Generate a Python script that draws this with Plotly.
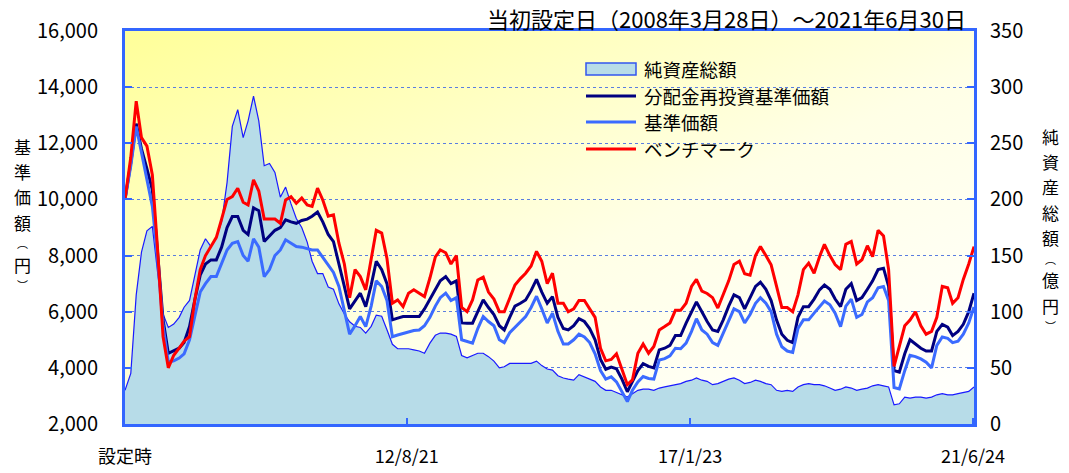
import pandas as pd
import plotly.graph_objects as go

dates = [pd.Timestamp("2008-03-28")] + list(pd.date_range("2008-04-30", "2021-06-30", freq="ME"))

benchmark = [10000, 11500, 13500, 12200, 11900, 10870, 8200, 5110, 4000, 4450,
             4700, 4950, 5110, 6420, 7500, 8000, 8320, 8650, 9300, 10000,
             10100, 10400, 9900, 9800, 10700, 10300, 9300, 9300, 9300, 9150,
             9980, 10100, 9860, 10050, 9800, 9750, 10400, 9980, 9400, 9450,
             8440, 7700, 6500, 7500, 7250, 6780, 7845, 8900, 8800, 7900,
             6300, 6420, 6180, 6660, 6780, 6660, 6540, 7200, 7950, 8200,
             8100, 7700, 8000, 6150, 6000, 6420, 7130, 7230, 6700, 6450,
             6000, 6000, 6500, 6950, 7180, 7370, 7630, 8150, 7800, 7000,
             7370, 6300, 6300, 6000, 6100, 6400, 6400, 6100, 5800, 4700,
             4250, 4300, 4500, 3950, 3400, 3570, 4520, 4850, 4520, 4760,
             5350, 5470, 5600, 6050, 6050, 6300, 6900, 7150, 6730, 6650,
             6500, 6130, 6600, 7100, 7680, 7800, 7350, 7300, 8000, 8320,
             8000, 7670, 6900, 6150, 6150, 6000, 6600, 7500, 7730, 7370,
             7960, 8400, 8000, 7680, 7500, 8400, 8500, 7700, 7850, 8350,
             7960, 8900, 8700, 7500, 4050, 4760, 5500, 5700, 6000, 5500,
             5200, 5300, 5800, 6900, 6850, 6300, 6500, 7150, 7700, 8320]

reinvested = [10000, 11300, 12700, 11800, 11100, 10340, 8100, 5710, 4520, 4600,
              4700, 4900, 5470, 6420, 7300, 7700, 7845, 7845, 8300, 9000,
              9390, 9390, 8900, 8750, 9700, 9600, 8500, 8700, 8900, 9000,
              9270, 9200, 9150, 9250, 9300, 9400, 9550, 9200, 8750, 8500,
              7730, 6900, 6100, 6400, 6660, 6180, 6950, 7800, 7500, 7000,
              5710, 5770, 5830, 5830, 5830, 5830, 6100, 6450, 6800, 7100,
              7250, 7000, 7100, 5600, 5590, 5590, 6000, 6420, 6150, 5900,
              5500, 5350, 5800, 6200, 6300, 6420, 6750, 7150, 6700, 6300,
              6540, 5800, 5400, 5350, 5500, 5750, 5650, 5400, 5000, 4300,
              3950, 4030, 3970, 3600, 3150, 3500, 3900, 4150, 4050, 4000,
              4640, 4700, 4800, 5150, 5150, 5590, 6000, 6350, 6000, 5650,
              5350, 5300, 5710, 6200, 6600, 6500, 6100, 6500, 6900, 7050,
              6800, 6400, 5700, 5200, 4980, 4900, 5800, 6180, 6180, 6450,
              6780, 6950, 6800, 6450, 6180, 6800, 7000, 6400, 6500, 6800,
              7100, 7500, 7550, 6900, 3900, 3850, 4500, 5000, 4850, 4700,
              4600, 4600, 5300, 5550, 5450, 5150, 5300, 5550, 6000, 6660]

nav = [10000, 11200, 12600, 11700, 10700, 9750, 7900, 5500, 4200, 4250,
       4350, 4500, 5000, 5830, 6700, 7000, 7250, 7250, 7700, 8200,
       8440, 8500, 8000, 7800, 8600, 8300, 7250, 7500, 8000, 8200,
       8560, 8450, 8320, 8300, 8250, 8200, 8200, 7950, 7650, 7400,
       6900, 6000, 5200, 5500, 5830, 5470, 6200, 7100, 6900, 6400,
       5110, 5170, 5230, 5280, 5330, 5350, 5500, 5800, 6200, 6500,
       6660, 6400, 6500, 5000, 4950, 4880, 5400, 5830, 5650, 5500,
       5000, 4900, 5250, 5450, 5650, 5830, 6150, 6550, 6100, 5600,
       5950, 5300, 4850, 4850, 5000, 5200, 5100, 4900, 4500, 3900,
       3600, 3680, 3500, 3150, 2800, 3200, 3500, 3690, 3620, 3600,
       4280, 4330, 4430, 4700, 4680, 4880, 5300, 5750, 5350, 5200,
       4900, 4800, 5230, 5700, 6100, 6000, 5600, 5900, 6300, 6500,
       6300, 6000, 5200, 4750, 4600, 4550, 5400, 5710, 5710, 5950,
       6180, 6380, 6250, 5950, 5470, 6200, 6450, 5800, 5900, 6350,
       6500, 6850, 6900, 6400, 3300, 3250, 3900, 4450, 4400, 4320,
       4200, 4000, 4800, 5100, 5050, 4900, 4950, 5200, 5600, 6170]

net_assets = [30, 45, 115, 153, 172, 176, 135, 98, 86, 89,
              95, 104, 110, 131, 155, 165, 158, 166, 180, 215,
              265, 280, 255, 270, 292, 270, 230, 232, 224, 202,
              211, 196, 183, 175, 162, 145, 134, 134, 122, 120,
              107, 98, 91, 87, 86, 81, 87, 97, 96, 84,
              71, 67, 67, 67, 66, 65, 63, 72, 79, 81,
              81, 80, 78, 61, 59, 61, 63, 63, 60, 56,
              50, 51, 54, 54, 54, 54, 54, 56, 52, 49,
              48, 43, 41, 40, 39, 44, 42, 40, 38, 33,
              30, 30, 28, 26, 24, 27, 30, 31, 31, 30,
              32, 33, 34, 35, 36, 38, 39, 41, 39, 38,
              35, 36, 38, 40, 41, 39, 36, 37, 39, 38,
              36, 35, 30, 29, 30, 29, 33, 35, 36, 35,
              35, 34, 32, 30, 31, 33, 32, 30, 31, 32,
              34, 35, 34, 33, 17, 18, 24, 23, 24, 24,
              23, 24, 26, 27, 26, 26, 27, 28, 29, 33]

tick_dates = ["2008-03-28", "2012-08-21", "2017-01-23", "2021-06-24"]
tick_labels = ["設定時", "12/8/21", "17/1/23", "21/6/24"]
left_ticks = [2000, 4000, 6000, 8000, 10000, 12000, 14000, 16000]
right_ticks = [0, 50, 100, 150, 200, 250, 300, 350]

FONT = "Noto Sans CJK JP"
FRAME = "#3366ff"
AREA_FILL = "#b7dce8"
AREA_LINE = "#1a1aff"
C_REINV = "#000080"
C_NAV = "#3b6bff"
C_BM = "#ff0000"

series = [("分配金再投資基準価額", reinvested, C_REINV),
          ("基準価額", nav, C_NAV),
          ("ベンチマーク", benchmark, C_BM)]

fig = go.Figure()
fig.add_trace(go.Scatter(x=dates, y=net_assets, name="純資産総額", yaxis="y",
                         mode="lines", fill="tozeroy", fillcolor=AREA_FILL,
                         line=dict(color=AREA_LINE, width=1.2), showlegend=False))
for name, vals, col in series:
    fig.add_trace(go.Scatter(x=dates, y=vals, name=name, yaxis="y2",
                             mode="lines", line=dict(color=col, width=3), showlegend=False))

svg = ("data:image/svg+xml;utf8,<svg xmlns='http://www.w3.org/2000/svg' width='100' height='100' preserveAspectRatio='none'>"
       "<defs><linearGradient id='g' x1='0' y1='0' x2='1' y2='1'>"
       "<stop offset='0' stop-color='%23ffff99'/><stop offset='0.55' stop-color='%23ffffe6'/>"
       "<stop offset='1' stop-color='%23ffffff'/></linearGradient></defs>"
       "<rect width='100' height='100' fill='url(%23g)'/></svg>")

fig.update_layout(
    width=1069, height=473,
    margin=dict(l=125, r=95, t=31, b=49),
    paper_bgcolor="white", plot_bgcolor="rgba(0,0,0,0)",
    font=dict(family=FONT, size=18, color="black"),
    showlegend=False,
    images=[dict(source=svg, xref="paper", yref="paper", x=0, y=1, sizex=1, sizey=1,
                 sizing="stretch", layer="below")],
    xaxis=dict(type="date", range=["2008-03-28", "2021-06-30"],
               tickvals=tick_dates, ticktext=tick_labels, automargin=False,
               ticks="inside", ticklen=6, tickwidth=2, tickcolor=FRAME,
               showgrid=False, showline=True, linecolor=FRAME, linewidth=3, mirror=True,
               tickfont=dict(size=18), ticklabelstandoff=14, zeroline=False),
    yaxis=dict(range=[0, 350], tickvals=right_ticks, side="right", automargin=False,
               ticks="inside", ticklen=7, tickwidth=2, tickcolor=FRAME,
               showgrid=True, gridcolor="#5a7ee0", griddash="dot", gridwidth=1,
               showline=True, linecolor=FRAME, linewidth=3, zeroline=False,
               tickfont=dict(size=20), ticklabelstandoff=9),
    yaxis2=dict(range=[2000, 16000], tickvals=left_ticks, side="left", overlaying="y",
                automargin=False,
                ticks="inside", ticklen=7, tickwidth=2, tickcolor=FRAME,
                showgrid=False, showline=True, linecolor=FRAME, linewidth=3, zeroline=False,
                tickformat=",d", tickfont=dict(size=20), ticklabelstandoff=20),
)

def px(x):
    return (x - 125) / 849

def py(y):
    return (424 - y) / 393

# legend drawn as shapes + text
shapes = [dict(type="rect", xref="paper", yref="paper", x0=px(586), x1=px(636), y0=py(75), y1=py(63),
               fillcolor=AREA_FILL, line=dict(color="#3355ee", width=1.5))]
legend_rows = [(96, C_REINV), (122, C_NAV), (149, C_BM)]
for yy, col in legend_rows:
    shapes.append(dict(type="line", xref="paper", yref="paper", x0=px(586), x1=px(636),
                       y0=py(yy), y1=py(yy), line=dict(color=col, width=3)))
fig.update_layout(shapes=shapes)

ann = [dict(text="当初設定日（2008年3月28日）～2021年6月30日", xref="paper", yref="paper",
            x=0.993, y=1.0789, xanchor="right", yanchor="top", showarrow=False,
            font=dict(size=22, family=FONT))]
legend_texts = [("純資産総額", 69), ("分配金再投資基準価額", 96), ("基準価額", 122), ("ベンチマーク", 149)]
for t, yy in legend_texts:
    ann.append(dict(text=t, xref="paper", yref="paper", x=px(642), y=py(yy),
                    xanchor="left", yanchor="middle", showarrow=False, font=dict(size=18.5)))


def vertical_title(chars, x_px, y_start):
    """Stack characters vertically; parentheses use a smaller size."""
    out = []
    y = y_start
    prev_h = None
    for ch in chars:
        small = ch in "︵︶"
        fs = 11 if small else 17
        h = fs * 1.46
        if prev_h is not None:
            y += (prev_h + h) / 2 + 0.6
        out.append(dict(text=ch, xref="paper", yref="paper", x=px(x_px), y=py(y),
                        xanchor="center", yanchor="middle", showarrow=False,
                        font=dict(size=fs)))
        prev_h = h
    return out

ann += vertical_title(list("基準価額︵円︶"), 22, 146)
ann += vertical_title(list("純資産総額︵億円︶"), 1050, 136)
fig.update_layout(annotations=ann)

fig.write_html("out.html")
